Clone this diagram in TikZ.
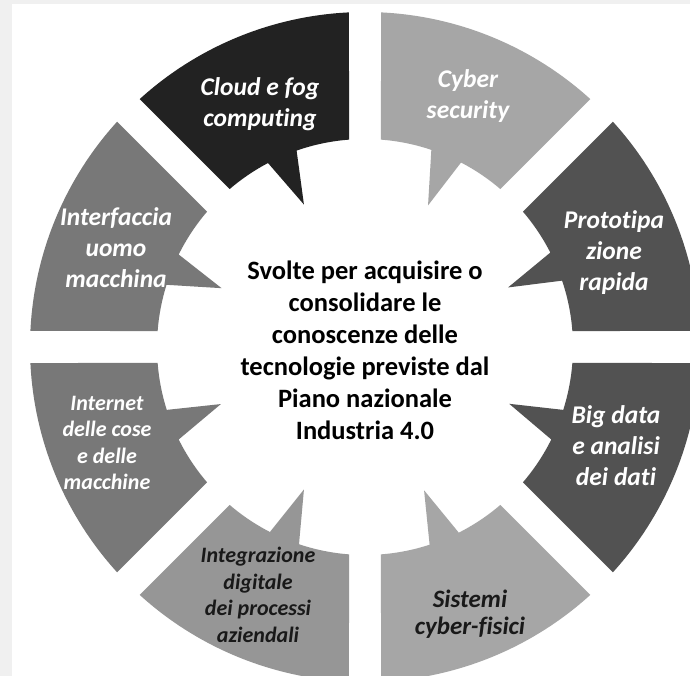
\documentclass[tikz,border=0pt]{standalone}
\usepackage{fontspec}
\setmainfont{Carlito}[Ligatures=NoCommon]
\usetikzlibrary{positioning}
\tikzstyle{wheel} = [x = 1pt, y = 1pt]
\definecolor{darkestGray}{RGB}{34,34,34}
\definecolor{darkGray}{RGB}{82,82,82}
\definecolor{midGray}{RGB}{120,120,120}
\definecolor{paleMidGray}{RGB}{150,150,150}
\definecolor{lightGray}{RGB}{166,166,166}
\definecolor{frameGray}{RGB}{240,240,240}
\definecolor{inkGray}{RGB}{25,25,25}
\tikzstyle{labelText} = [font=\fontsize{25.5}{31}\selectfont\bfseries\itshape, align=center, text=white, inner sep=0pt]
\tikzstyle{smallLabelText} = [labelText, font=\fontsize{22}{26.5}\selectfont\bfseries\itshape]
\tikzstyle{darkLabel} = [text=inkGray]
\tikzstyle{centerText} = [font=\fontsize{26.5}{32}\selectfont\bfseries, align=center, text=black, inner sep=0pt]
\newcommand{\outerRadius}{335}
\newcommand{\innerRadius}{208}
\newcommand{\tipRadius}{155}
\newcommand{\outerGap}{2.74}
\newcommand{\innerGap}{4.41}
% one slice of the wheel: start angle, colour, lower base, tip, upper base of the pointer
\newcommand{\calloutSegment}[5]{\fill [#2] (#1 + \outerGap:\outerRadius) arc [start angle = #1 + \outerGap, end angle = #1 + 45 - \outerGap, radius = \outerRadius] -- (#1 + 45 - \innerGap:\innerRadius) arc [start angle = #1 + 45 - \innerGap, end angle = #5, radius = \innerRadius] -- (#4:\tipRadius) -- (#3:\innerRadius) arc [start angle = #3, end angle = #1 + \innerGap, radius = \innerRadius] -- cycle;}

\begin{document}
\begin{tikzpicture}[wheel]
        \useasboundingbox (-365,-329) rectangle (325,347);
        \fill [frameGray] (-365,-329) rectangle (325,347);
        \fill [white] (-353,-329) rectangle (325,343);

        \calloutSegment{0}{darkGray}{18.6}{22.6}{27.0}
        \calloutSegment{45}{lightGray}{62.5}{66.0}{71.4}
        \calloutSegment{90}{darkestGray}{109.2}{113.2}{117.8}
        \calloutSegment{135}{midGray}{153.6}{157.7}{162.6}
        \calloutSegment{180}{midGray}{197.6}{201.6}{206.4}
        \calloutSegment{225}{paleMidGray}{242.8}{246.8}{251.5}
        \calloutSegment{270}{lightGray}{288.1}{292.4}{296.8}
        \calloutSegment{315}{darkGray}{333.6}{338.5}{342.4}

        \node [centerText] (centerNote) at (0,-3) {Svolte per acquisire o\\consolidare le\\conoscenze delle\\tecnologie previste dal\\Piano nazionale\\Industria 4.0};

        \node [labelText] (protoLabel) at (249,94) {Prototipa\\zione\\rapida};
        \node [labelText] (cyberLabel) at (103,251) {Cyber\\security};
        \node [labelText] (cloudLabel) at (-105,243) {Cloud e fog\\computing};
        \node [labelText] (hmiLabel) at (-249,99) {Interfaccia\\uomo\\macchina};
        \node [smallLabelText] (iotLabel) at (-258,-96) {Internet\\delle cose\\e delle\\macchine};
        \node [smallLabelText, darkLabel] (integrationLabel) at (-107,-248) {Integrazione\\digitale\\dei processi\\aziendali};
        \node [labelText, darkLabel, font=\fontsize{25}{27}\selectfont\bfseries\itshape] (cpsLabel) at (105,-267) {Sistemi\\cyber-fisici};
        \node [labelText] (bigDataLabel) at (251,-99) {Big data\\e analisi\\dei dati};
      \end{tikzpicture}
\end{document}
